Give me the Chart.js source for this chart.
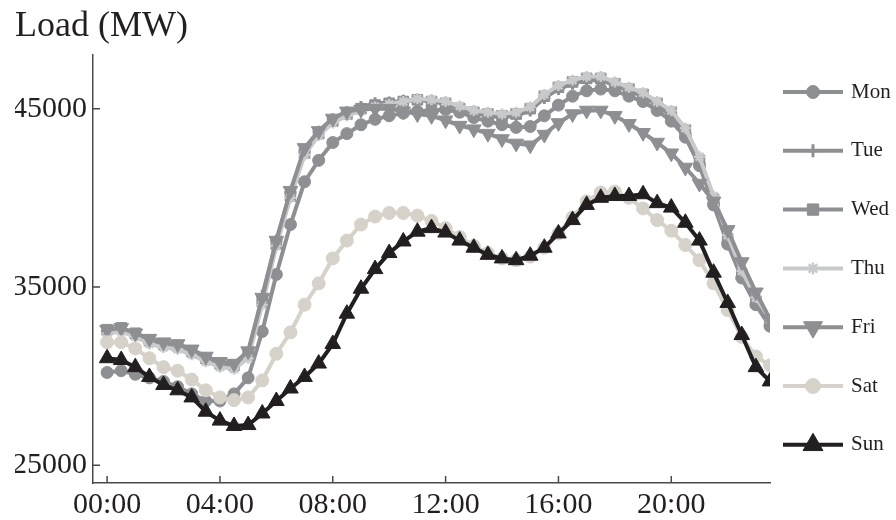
<!DOCTYPE html>
<html>
<head>
<meta charset="utf-8">
<script src="https://cdn.jsdelivr.net/npm/chart.js@4.4.1/dist/chart.umd.min.js"></script>
<style>
  html, body { margin: 0; padding: 0; background: #ffffff; }
  #wrap { width: 896px; height: 520px; }
</style>
</head>
<body>
<div id="wrap"><canvas id="chartLoad" width="896" height="520"></canvas></div>
<script>
const TIMES = ['00:00', '00:30', '01:00', '01:30', '02:00', '02:30', '03:00', '03:30',
  '04:00', '04:30', '05:00', '05:30', '06:00', '06:30', '07:00', '07:30',
  '08:00', '08:30', '09:00', '09:30', '10:00', '10:30', '11:00', '11:30',
  '12:00', '12:30', '13:00', '13:30', '14:00', '14:30', '15:00', '15:30',
  '16:00', '16:30', '17:00', '17:30', '18:00', '18:30', '19:00', '19:30',
  '20:00', '20:30', '21:00', '21:30', '22:00', '22:30', '23:00', '23:30'];
const X_TICKS = [0, 4, 8, 12, 16, 20];
const Y_TICKS = [25000, 35000, 45000];
const DAYS = ['Mon', 'Tue', 'Wed', 'Thu', 'Fri', 'Sat', 'Sun'];

const MON = [30200, 30300, 30100, 29900, 29700, 29400, 29000, 28600, 28600, 29000, 29900, 32500,
  35700, 38500, 40900, 42100, 43100, 43600, 44100, 44400, 44600, 44750, 44850, 44900,
  44950, 44800, 44500, 44300, 44100, 43950, 44000, 44600, 45200, 45700, 46000, 46100,
  46000, 45700, 45400, 44900, 44300, 43400, 41800, 39600, 37400, 35500, 34000, 32800];
const TUE = [32500, 32600, 32300, 31900, 31700, 31600, 31300, 30900, 30600, 30500, 31200, 34500,
  37600, 40300, 42600, 43700, 44400, 44800, 45100, 45300, 45350, 45450, 45500, 45450,
  45250, 45000, 44750, 44600, 44500, 44600, 44900, 45600, 46100, 46400, 46600, 46600,
  46300, 46000, 45700, 45200, 44600, 43600, 41900, 39700, 37500, 35500, 34000, 32800];
const WED = [32600, 32700, 32400, 32000, 31800, 31700, 31400, 31000, 30700, 30600, 31300, 34200,
  37400, 40100, 42500, 43600, 44300, 44700, 45000, 45200, 45300, 45400, 45500, 45400,
  45300, 45000, 44800, 44700, 44600, 44700, 45000, 45700, 46200, 46500, 46700, 46700,
  46400, 46100, 45800, 45300, 44800, 43800, 42100, 39900, 37700, 35700, 34200, 33000];
const THU = [32400, 32500, 32200, 31800, 31600, 31500, 31200, 30800, 30500, 30400, 31000, 34000,
  37300, 40000, 42400, 43500, 44200, 44600, 44900, 45100, 45250, 45400, 45550, 45500,
  45400, 45150, 44900, 44800, 44700, 44800, 45100, 45800, 46300, 46600, 46800, 46800,
  46500, 46200, 45900, 45400, 44900, 43900, 42300, 40100, 37900, 35900, 34400, 33200];
const FRI = [32600, 32700, 32400, 32100, 31900, 31800, 31500, 31100, 30800, 30700, 31400, 34400,
  37600, 40400, 42800, 43750, 44450, 44850, 44950, 45000, 45000, 44850, 44700, 44600,
  44350, 44050, 43850, 43600, 43300, 43050, 42950, 43550, 44200, 44700, 44900, 44900,
  44600, 44150, 43650, 43100, 42500, 41700, 40800, 39800, 38200, 36400, 34700, 33200];
const SAT = [31900, 31900, 31550, 31000, 30500, 30300, 29800, 29200, 28800, 28650, 28800, 29750,
  31250, 32450, 34000, 35200, 36600, 37600, 38500, 38950, 39150, 39150, 39000, 38700,
  38300, 37800, 37300, 36900, 36600, 36500, 36700, 37200, 38000, 38900, 39800, 40300,
  40350, 40000, 39400, 38750, 38150, 37350, 36500, 35200, 33700, 32200, 31100, 30600];
const SUN = [31000, 30900, 30500, 29950, 29500, 29200, 28800, 28000, 27500, 27200, 27250, 27900,
  28600, 29300, 29950, 30700, 31800, 33500, 34900, 36000, 36900, 37550, 38100, 38300,
  38050, 37600, 37200, 36800, 36600, 36500, 36750, 37200, 38000, 38750, 39600, 40000,
  40100, 40100, 40200, 39700, 39450, 38600, 37600, 35800, 34100, 32300, 30500, 29700];

const SERIES = [MON, TUE, WED, THU, FRI, SAT, SUN];

const INK = '#231f20';
const GRAY = '#8e8f93';
const AXIS = '#4a4a4c';
const FONT = '"Liberation Serif", "Times New Roman", serif';

// marker look per day: style, radius (plot / legend), colour, draw order (lower = on top)
const LOOK = [
  { color: GRAY, style: 'circle', r: 6, lr: 6.5, order: 6 },
  { color: GRAY, style: 'cross', r: 6, lr: 6.5, order: 5, bw: 3 },
  { color: GRAY, style: 'rect', r: 7.5, lr: 8, order: 4 },
  { color: '#c9cacc', style: 'star', r: 5.5, lr: 6, order: 3, bw: 2.5 },
  { color: GRAY, style: 'triangle', r: 8.5, lr: 11, order: 2, rot: 180 },
  { color: '#d6d2ca', style: 'circle', r: 6.5, lr: 7.5, order: 1 },
  { color: INK, style: 'triangle', r: 9, lr: 11.5, order: 0 }
];

const toHours = t => { const p = t.split(':'); return +p[0] + (+p[1]) / 60; };

const datasets = DAYS.map((day, k) => {
  const lk = LOOK[k];
  return {
    label: day,
    data: SERIES[k].map((v, i) => ({ x: toHours(TIMES[i]), y: v })),
    borderColor: lk.color,
    backgroundColor: lk.color,
    borderWidth: 4,
    tension: 0,
    order: lk.order,
    pointStyle: lk.style,
    pointRadius: lk.r,
    pointRotation: lk.rot || 0,
    pointBackgroundColor: lk.color,
    pointBorderColor: lk.color,
    pointBorderWidth: lk.bw || 1
  };
});

const sideLegend = {
  id: 'sideLegend',
  afterDraw(chart) {
    const ctx = chart.ctx;
    chart.data.datasets.forEach((ds, k) => {
      const y = 92 + k * 58.8;
      ctx.save();
      ctx.strokeStyle = ds.borderColor;
      ctx.lineWidth = ds.borderWidth;
      ctx.beginPath();
      ctx.moveTo(783, y);
      ctx.lineTo(843, y);
      ctx.stroke();
      ctx.fillStyle = ds.pointBackgroundColor;
      ctx.strokeStyle = ds.pointBorderColor;
      ctx.lineWidth = ds.pointBorderWidth;
      Chart.helpers.drawPoint(ctx, {
        pointStyle: ds.pointStyle, rotation: ds.pointRotation,
        radius: LOOK[k].lr, borderWidth: ds.pointBorderWidth
      }, 813, y);
      ctx.fillStyle = INK;
      ctx.font = '21px ' + FONT;
      ctx.textAlign = 'left';
      ctx.textBaseline = 'middle';
      ctx.fillText(ds.label, 851, y);
      ctx.restore();
    });
  }
};

// tick marks point into the plot
const innerTicks = {
  id: 'innerTicks',
  afterDraw(chart) {
    const { ctx, chartArea, scales } = chart;
    ctx.save();
    ctx.strokeStyle = AXIS;
    ctx.lineWidth = 1.5;
    ctx.beginPath();
    X_TICKS.forEach(v => {
      const px = scales.x.getPixelForValue(v);
      ctx.moveTo(px, chartArea.bottom);
      ctx.lineTo(px, chartArea.bottom - 7);
    });
    Y_TICKS.forEach(v => {
      const py = scales.y.getPixelForValue(v);
      ctx.moveTo(chartArea.left, py);
      ctx.lineTo(chartArea.left + 7, py);
    });
    ctx.stroke();
    ctx.restore();
  }
};

new Chart(document.getElementById('chartLoad'), {
  type: 'line',
  data: { datasets: datasets },
  options: {
    responsive: false,
    animation: false,
    devicePixelRatio: 1,
    layout: { padding: { left: 15, right: 126, top: 0, bottom: 0 } },
    plugins: {
      legend: { display: false },
      tooltip: { enabled: false },
      title: {
        display: true, text: 'Load (MW)', align: 'start', color: INK,
        font: { family: FONT, size: 36, weight: 'normal' },
        padding: { top: 5, bottom: 7 }
      }
    },
    scales: {
      x: {
        type: 'linear', min: -0.5, max: 23.5,
        afterBuildTicks: axis => { axis.ticks = X_TICKS.map(v => ({ value: v })); },
        afterFit: axis => { axis.height = 37; },
        grid: { display: true, drawOnChartArea: false, drawTicks: false },
        border: { display: true, color: AXIS, width: 1.5 },
        ticks: {
          padding: 4, color: INK, maxRotation: 0, autoSkip: false,
          font: { family: FONT, size: 30 },
          callback: v => TIMES[v * 2]
        }
      },
      y: {
        min: 24000, max: 48000,
        afterBuildTicks: axis => { axis.ticks = Y_TICKS.map(v => ({ value: v })); },
        afterFit: axis => { axis.width = 78; },
        grid: { display: true, drawOnChartArea: false, drawTicks: false },
        border: { display: true, color: AXIS, width: 1.5 },
        ticks: {
          padding: 6, color: INK,
          font: { family: FONT, size: 30 },
          callback: v => String(v)
        }
      }
    }
  },
  plugins: [sideLegend, innerTicks]
});
</script>
</body>
</html>
